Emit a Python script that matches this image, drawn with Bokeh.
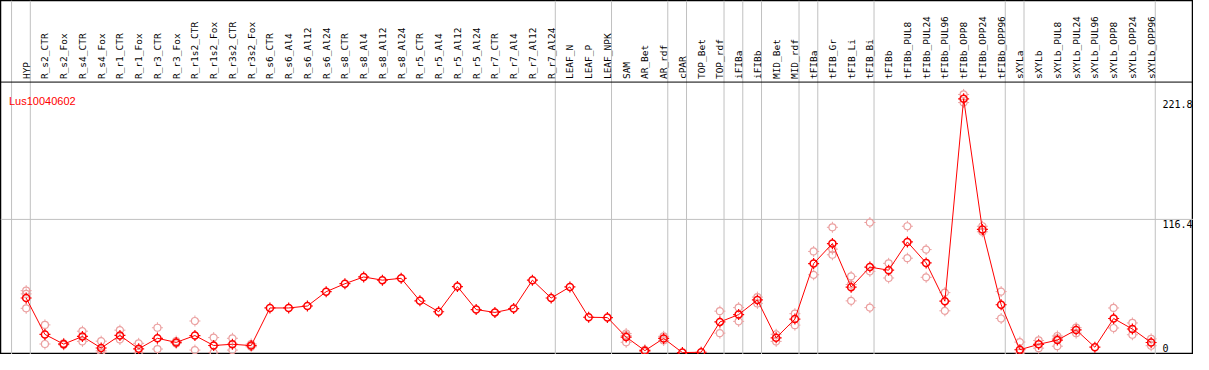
import math
from bokeh.plotting import figure
from bokeh.models import ColumnDataSource, Range1d, Span
from bokeh.core.properties import value
from bokeh.embed import file_html
from bokeh.resources import INLINE

gene = "Lus10040602"

categories = [
    "HYP", "R_s2_CTR", "R_s2_Fox", "R_s4_CTR", "R_s4_Fox", "R_r1_CTR", "R_r1_Fox",
    "R_r3_CTR", "R_r3_Fox", "R_r1s2_CTR", "R_r1s2_Fox", "R_r3s2_CTR", "R_r3s2_Fox",
    "R_s6_CTR", "R_s6_Al4", "R_s6_Al12", "R_s6_Al24", "R_s8_CTR", "R_s8_Al4",
    "R_s8_Al12", "R_s8_Al24", "R_r5_CTR", "R_r5_Al4", "R_r5_Al12", "R_r5_Al24",
    "R_r7_CTR", "R_r7_Al4", "R_r7_Al12", "R_r7_Al24", "LEAF_N", "LEAF_P", "LEAF_NPK",
    "SAM", "AR_Bet", "AR_rdf", "cPAR", "TOP_Bet", "TOP_rdf", "iFIBa", "iFIBb",
    "MID_Bet", "MID_rdf", "tFIBa", "tFIB_Gr", "tFIB_Li", "tFIB_Bi", "tFIBb",
    "tFIBb_PUL8", "tFIBb_PUL24", "tFIBb_PUL96", "tFIBb_OPP8", "tFIBb_OPP24",
    "tFIBb_OPP96", "sXYLa", "sXYLb", "sXYLb_PUL8", "sXYLb_PUL24", "sXYLb_PUL96",
    "sXYLb_OPP8", "sXYLb_OPP24", "sXYLb_OPP96",
]

means = [
    47.7, 15.9, 7.4, 14.1, 4.0, 15.0, 3.3, 12.5, 8.9, 14.9, 6.2, 7.3, 6.1,
    39.0, 39.0, 40.7, 53.2, 60.2, 66.1, 63.3, 64.9, 45.2, 35.7, 57.7, 37.6,
    35.1, 38.5, 63.3, 47.7, 57.4, 30.9, 30.6,
    13.6, 1.7, 12.4, 0.0, 0.3, 26.8, 33.2, 46.0, 12.9, 29.3,
    77.8, 95.3, 57.2, 74.7, 72.0, 96.7, 78.4, 44.9, 221.8, 107.6, 41.8,
    2.5, 7.2, 10.9, 19.8, 4.7, 29.8, 20.6, 8.8,
]

replicates = [
    [54.1, 51.3, 38.7], [24.2, 7.5], [8.0, 6.8], [18.7, 9.8], [10.0, 1.5, 0.0],
    [19.6, 11.5], [8.1, 0.0], [21.7, 3.1], [10.0, 8.0], [27.6, 2.2], [13.1, 0.0],
    [12.5, 2.2], [7.5, 5.0],
    [], [], [], [], [], [], [], [], [], [], [], [], [], [], [], [], [], [], [],
    [16.7, 15.0, 9.0], [2.5, 1.0], [14.2, 10.6], [], [], [36.2, 17.0],
    [39.3, 27.3], [48.5, 43.0], [16.0, 9.8], [34.0, 24.0],
    [88.4, 68.0], [109.5, 90.4, 85.5], [66.6, 59.5, 45.2], [113.7, 71.0, 39.3],
    [78.0, 65.2], [110.4, 82.5], [90.0, 65.8], [52.4, 36.5], [225.6, 218.5],
    [110.4, 105.6], [53.3, 29.8],
    [9.2, 0.0, 0.0], [10.6, 3.9], [14.5, 12.5, 5.6], [21.8, 17.0], [],
    [39.0, 21.5], [25.9, 15.6], [12.0, 6.0],
]

y_ticks = [0, 116.4, 221.8]
group_ends = [-1, 0, 28, 31, 34, 35, 37, 38, 39, 41, 42, 45, 52, 53, 60]

# ---- layout / style ----
W, H = 1193, 354
X_LEFT, X_RIGHT = -1.37, 62.26
Y_BOT, Y_TOP = -1.67, 307.7
HEADER_Y = 236.4
RED = "#ff0000"
PINK = "#eba0a0"
GRAY = "#c0c0c0"
MONO = value("DejaVu Sans Mono")

xs = list(range(len(categories)))
rep_x = [i for i, r in enumerate(replicates) for _ in r]
rep_y = [v for r in replicates for v in r]

p = figure(width=W, height=H, output_backend="svg", toolbar_location=None,
           x_range=Range1d(X_LEFT, X_RIGHT), y_range=Range1d(Y_BOT, Y_TOP),
           x_axis_type=None, y_axis_type=None, min_border=0,
           outline_line_color="black", outline_line_width=1.5,
           background_fill_color="white", border_fill_color="white")

for g in group_ends:
    p.add_layout(Span(location=g + 0.22, dimension="height", line_color=GRAY,
                      line_width=1, level="underlay"))
p.add_layout(Span(location=y_ticks[1], dimension="width", line_color=GRAY,
                  line_width=1, level="underlay"))
p.add_layout(Span(location=HEADER_Y, dimension="width", line_color="black",
                  line_width=1, level="underlay"))

rep_src = ColumnDataSource(dict(x=rep_x, y=rep_y))
p.scatter("x", "y", source=rep_src, marker="cross", size=11, line_color=PINK,
          line_width=1, line_dash="2 7")
p.scatter("x", "y", source=rep_src, marker="circle", size=7, fill_color=None,
          line_color=PINK, line_width=1.2)

mean_src = ColumnDataSource(dict(x=xs, y=means))
p.line("x", "y", source=mean_src, line_color=RED, line_width=1)
p.scatter("x", "y", source=mean_src, marker="cross", size=11, line_color=RED,
          line_width=1.2, line_dash="2 7")
p.scatter("x", "y", source=mean_src, marker="circle", size=7, fill_color=None,
          line_color=RED, line_width=1.5)

# category labels (rotated, above the header line)
lab_src = ColumnDataSource(dict(x=xs, y=[HEADER_Y] * len(xs), t=categories))
p.text("x", "y", text="t", source=lab_src, angle=math.pi / 2, text_align="left",
       text_baseline="middle", y_offset=-3, text_font=MONO,
       text_font_size="9.5px", text_color="black")

# gene name
p.text(x=[-0.92], y=[HEADER_Y - 11], text=[gene], text_font=value("Liberation Sans"),
       text_font_size="11px", text_color=RED, text_baseline="top", text_align="left")

# value labels on the right
lx = len(categories) - 1 + 0.6
top_ticks = [t for t in y_ticks if t > 0]
p.text(x=[lx] * len(top_ticks), y=top_ticks, text=[f"{t:g}" for t in top_ticks],
       text_font=MONO, text_font_size="10px", text_color="black",
       text_baseline="top", text_align="left", y_offset=1)
p.text(x=[lx], y=[y_ticks[0]], text=[f"{y_ticks[0]:g}"], text_font=MONO,
       text_font_size="10px", text_color="black", text_baseline="bottom",
       text_align="left", y_offset=-1)

open("out.html", "w").write(file_html(p, INLINE))
